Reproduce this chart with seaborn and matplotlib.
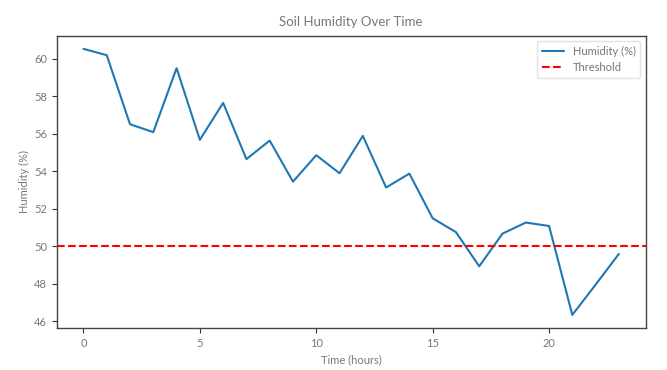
import matplotlib
matplotlib.use("Agg")
import matplotlib.pyplot as plt
import pandas as pd
import seaborn as sns

hours = list(range(24))
humidity = [60.52, 60.18, 56.50, 56.08, 59.49, 55.67, 57.64, 54.64,
            55.63, 53.44, 54.85, 53.89, 55.88, 53.13, 53.87, 51.49,
            50.75, 48.93, 50.67, 51.26, 51.08, 46.34, 47.95, 49.59]
threshold = 50


def main():
    sns.set_theme(style="ticks")
    plt.rcParams['font.family'] = ['Lato', 'DejaVu Sans']
    text_color = "#777777"
    plt.rcParams.update({
        'text.color': text_color,
        'axes.labelcolor': text_color,
        'xtick.color': "#333333",
        'ytick.color': "#333333",
        'xtick.labelcolor': text_color,
        'ytick.labelcolor': text_color,
        'axes.edgecolor': "#444444",
    })

    df = pd.DataFrame({"hour": hours, "humidity": humidity})

    fig = plt.figure(figsize=(6.67, 3.7), dpi=100)
    ax = fig.add_axes([0.085, 0.113, 0.883, 0.791])

    sns.lineplot(x="hour", y="humidity", data=df, ax=ax,
                 color="#1f77b4", linewidth=1.5, label="Humidity (%)")
    ax.axhline(threshold, color="red", linestyle="--", linewidth=1.5,
               label="Threshold")

    ax.set_title("Soil Humidity Over Time", fontsize=9.5, color=text_color,
                 pad=7)
    ax.set_xlabel("Time (hours)", fontsize=8, labelpad=4)
    ax.set_ylabel("Humidity (%)", fontsize=8, labelpad=3)
    ax.tick_params(labelsize=8, length=3.5, width=0.8)
    ax.set_xticks([0, 5, 10, 15, 20])
    ax.set_yticks([46, 48, 50, 52, 54, 56, 58, 60])
    for s in ax.spines.values():
        s.set_linewidth(1.0)

    leg = ax.legend(loc="upper right", fontsize=8, frameon=True)
    leg.get_frame().set_edgecolor("#dddddd")

    fig.savefig("out.png", dpi=100)
    plt.close(fig)


if __name__ == '__main__':
    main()
